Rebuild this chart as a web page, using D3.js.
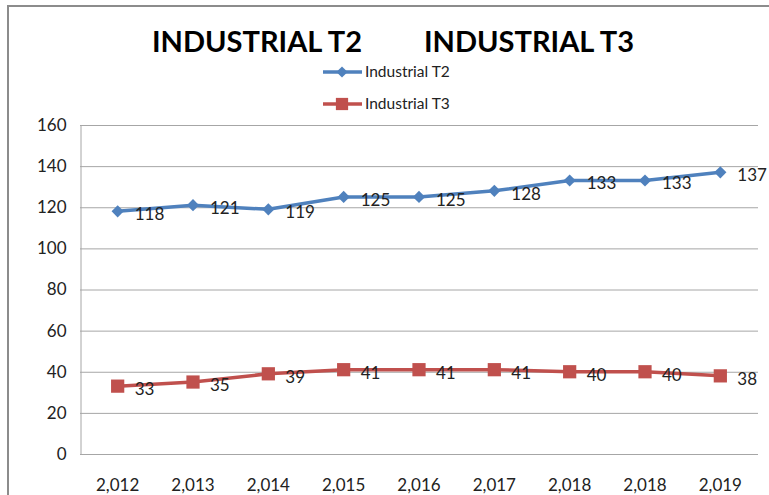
<!DOCTYPE html>
<html>
<head>
<meta charset="utf-8">
<title>Industrial T2 / T3</title>
<script src="https://d3js.org/d3.v7.min.js"></script>
<style>
  body { margin: 0; background: #fff; }
  svg { font-family: Lato, "Open Sans", sans-serif; }
</style>
</head>
<body>
<svg id="chart" width="769" height="495"></svg>
<script>
// data
const years = ["2,012", "2,013", "2,014", "2,015", "2,016", "2,017", "2,018", "2,018 ", "2,019"];
const t2 = [118, 121, 119, 125, 125, 128, 133, 133, 137];
const t3 = [33, 35, 39, 41, 41, 41, 40, 40, 38];
const yTicks = [0, 20, 40, 60, 80, 100, 120, 140, 160];

const blue = "#4F81BD", red = "#C0504D";
const svg = d3.select("#chart");

// outer chart frame
svg.append("rect").attr("x", 8).attr("y", 6).attr("width", 780).attr("height", 520)
  .attr("fill", "none").attr("stroke", "#8c8c8c").attr("stroke-width", 2);

const m = {left: 80, right: 758, top: 125, bottom: 454};

const x = d3.scaleBand().domain(years).range([m.left, m.right]);
const y = d3.scaleLinear().domain([0, 160]).range([m.bottom, m.top]);

// gridlines
svg.append("g").selectAll("line").data(yTicks).join("line")
  .attr("x1", m.left).attr("x2", m.right)
  .attr("y1", d => y(d) + 0.5).attr("y2", d => y(d) + 0.5)
  .attr("stroke", "#a6a6a6").attr("stroke-width", 1);

// y axis
const yAxis = svg.append("g").attr("transform", `translate(${m.left + 0.5},0)`)
  .call(d3.axisLeft(y).tickValues(yTicks).tickSize(0).tickPadding(14));
yAxis.select(".domain").attr("stroke", "#a6a6a6");
yAxis.selectAll("text").attr("font-size", 17).attr("fill", "#222")
  .attr("font-family", "Lato, sans-serif");

// x axis
const xAxis = svg.append("g").attr("transform", `translate(0,${m.bottom + 0.5})`)
  .call(d3.axisBottom(x).tickSize(0).tickPadding(24));
xAxis.select(".domain").remove();
xAxis.selectAll("text").attr("font-size", 17).attr("fill", "#222")
  .attr("font-family", "Lato, sans-serif");

const cx = (d, i) => x(years[i]) + x.bandwidth() / 2;
const line = d3.line().x(cx).y(d => y(d));

function drawSeries(vals, color, shape) {
  svg.append("path").datum(vals).attr("d", line)
    .attr("fill", "none").attr("stroke", color).attr("stroke-width", 3.5)
    .attr("stroke-linejoin", "round");
  const sym = shape === "diamond"
    ? d3.symbol().type(d3.symbolDiamond2).size(95)
    : d3.symbol().type(d3.symbolSquare).size(175);
  svg.append("g").selectAll("path").data(vals).join("path")
    .attr("d", sym)
    .attr("transform", (d, i) => `translate(${cx(d, i)},${y(d)})`)
    .attr("fill", color);
  svg.append("g").selectAll("text").data(vals).join("text")
    .attr("x", (d, i) => cx(d, i) + 17)
    .attr("y", d => y(d) + 3)
    .attr("dy", "0.35em")
    .attr("font-size", 17).attr("fill", "#222")
    .text(d => d);
}
drawSeries(t2, blue, "diamond");
drawSeries(t3, red, "square");

// title
const title = svg.append("text").attr("y", 52).attr("font-size", 28)
  .attr("font-weight", "bold").attr("fill", "#000");
title.append("tspan").attr("x", 152).attr("textLength", 210).attr("lengthAdjust", "spacingAndGlyphs")
  .text("INDUSTRIAL T2");
title.append("tspan").attr("x", 424).attr("textLength", 210).attr("lengthAdjust", "spacingAndGlyphs")
  .text("INDUSTRIAL T3");

// legend
const legend = [
  {name: "Industrial T2", color: blue, shape: "diamond", y: 72},
  {name: "Industrial T3", color: red, shape: "square", y: 104}
];
legend.forEach(l => {
  const g = svg.append("g");
  g.append("line").attr("x1", 323).attr("x2", 362).attr("y1", l.y).attr("y2", l.y)
    .attr("stroke", l.color).attr("stroke-width", 3.5);
  const sym = l.shape === "diamond"
    ? d3.symbol().type(d3.symbolDiamond2).size(80)
    : d3.symbol().type(d3.symbolSquare).size(150);
  g.append("path").attr("d", sym).attr("transform", `translate(342,${l.y})`).attr("fill", l.color);
  g.append("text").attr("x", 365).attr("y", l.y).attr("dy", "0.35em")
    .attr("font-size", 15.5).attr("fill", "#222").text(l.name);
});
</script>
</body>
</html>
